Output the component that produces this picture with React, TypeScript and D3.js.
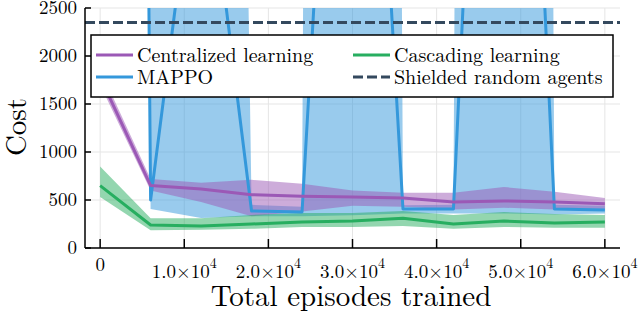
import * as d3 from "d3";

// training checkpoints (episodes)
const episodes = [0, 6000, 12000, 18000, 24000, 30000, 36000, 42000, 48000, 54000, 60000];

// Centralized learning
const centralizedMean = [1780, 650, 615, 555, 540, 530, 520, 480, 490, 480, 460];
const centralizedLow = [1700, 600, 480, 330, 380, 440, 430, 400, 420, 400, 400];
const centralizedHigh = [1860, 720, 680, 710, 670, 600, 575, 575, 635, 585, 520];

// Cascading learning
const cascadingMean = [650, 240, 230, 250, 270, 280, 310, 250, 280, 260, 270];
const cascadingLow = [530, 185, 190, 200, 220, 220, 230, 200, 220, 210, 210];
const cascadingHigh = [850, 310, 310, 345, 365, 365, 385, 345, 375, 355, 345];

// MAPPO (diverges off the top of the axis)
const mappoMean = [60000, 500, 4600, 385, 375, 9500, 406, 406, 11500, 406, 396];
const mappoLow = [53000, 406, 312, 330, 330, 340, 360, 360, 360, 350, 360];
const mappoHigh = [70000, 3000, 35000, 450, 430, 100000, 445, 450, 100000, 450, 440];

// Shielded random agents baseline
const shieldedCost = 2350;

const yTicks = [0, 500, 1000, 1500, 2000, 2500];
const xTicks = [0, 10000, 20000, 30000, 40000, 50000, 60000];

const colors = {
  centralized: "#9b59b6",
  cascading: "#27ae60",
  mappo: "#3498db",
  shielded: "#34495e",
};

const W = 640;
const H = 313;
const plot = { left: 85, right: 620, top: 8, bottom: 248 };
const font = '"Latin Modern Roman", "Liberation Serif", serif';
const tf = { fontFamily: font };

export default function App() {
  const x = d3.scaleLinear().domain([-1800, 61800]).range([plot.left, plot.right]);
  const y = d3.scaleLinear().domain([0, 2500]).range([plot.bottom, plot.top]);

  const series = [
    { key: "mappo", mean: mappoMean, low: mappoLow, high: mappoHigh, color: colors.mappo },
    { key: "centralized", mean: centralizedMean, low: centralizedLow, high: centralizedHigh, color: colors.centralized },
    { key: "cascading", mean: cascadingMean, low: cascadingLow, high: cascadingHigh, color: colors.cascading },
  ];

  const area = (low: number[], high: number[]) =>
    d3
      .area<number>()
      .x((d) => x(d))
      .y0((_, i) => y(low[i]))
      .y1((_, i) => y(high[i]))(episodes) || "";

  const line = (vals: number[]) =>
    d3
      .line<number>()
      .x((d) => x(d))
      .y((_, i) => y(vals[i]))(episodes) || "";

  const legend = [
    { label: "Centralized learning", color: colors.centralized, dash: false, col: 0, row: 0 },
    { label: "Cascading learning", color: colors.cascading, dash: false, col: 1, row: 0 },
    { label: "MAPPO", color: colors.mappo, dash: false, col: 0, row: 1 },
    { label: "Shielded random agents", color: colors.shielded, dash: true, col: 1, row: 1 },
  ];
  const colX = [96, 353];
  const rowY = [55, 77];

  return (
    <svg width={W} height={H} style={{ position: "absolute", left: 0, top: 0, background: "#fff" }}>
      <defs>
        <clipPath id="plotClip">
          <rect x={plot.left} y={plot.top} width={plot.right - plot.left} height={plot.bottom - plot.top} />
        </clipPath>
      </defs>

      {/* grid */}
      <g stroke="#e5e5e5" strokeWidth={1}>
        {xTicks.map((t) => (
          <line key={"gx" + t} x1={x(t)} x2={x(t)} y1={plot.top} y2={plot.bottom} />
        ))}
        {yTicks.map((t) => (
          <line key={"gy" + t} x1={plot.left} x2={plot.right} y1={y(t)} y2={y(t)} />
        ))}
      </g>

      <g clipPath="url(#plotClip)">
        {series.map((s) => (
          <path key={"band" + s.key} d={area(s.low, s.high)} fill={s.color} fillOpacity={0.5} stroke="none" />
        ))}
        {series.map((s) => (
          <path key={"line" + s.key} d={line(s.mean)} fill="none" stroke={s.color} strokeWidth={3} strokeLinejoin="round" />
        ))}
        <line
          x1={plot.left}
          x2={plot.right}
          y1={y(shieldedCost)}
          y2={y(shieldedCost)}
          stroke={colors.shielded}
          strokeWidth={3}
          strokeDasharray="10 4"
        />
      </g>

      {/* axes */}
      <g stroke="#000" strokeWidth={1.5}>
        <line x1={plot.left} x2={plot.left} y1={plot.top} y2={plot.bottom} />
        <line x1={plot.left} x2={plot.right} y1={plot.bottom} y2={plot.bottom} />
        {yTicks.map((t) => (
          <line key={"ty" + t} x1={plot.left} x2={plot.left + 6} y1={y(t)} y2={y(t)} />
        ))}
        {xTicks.map((t) => (
          <line key={"tx" + t} x1={x(t)} x2={x(t)} y1={plot.bottom} y2={plot.bottom - 9} />
        ))}
      </g>

      <g fontSize={19} fill="#000">
        {yTicks.map((t) => (
          <text key={"ly" + t} x={plot.left - 8} y={y(t) + 6} textAnchor="end" style={tf}>
            {t}
          </text>
        ))}
        {xTicks.map((t) =>
          t === 0 ? (
            <text key={"lx" + t} x={x(t)} y={271} textAnchor="middle" style={tf}>
              0
            </text>
          ) : (
            <text key={"lx" + t} x={x(t)} y={278} textAnchor="middle" style={tf}>
              <tspan>{(t / 10000).toFixed(1)}×10</tspan>
              <tspan dy={-10} fontSize={14}>4</tspan>
            </text>
          )
        )}
      </g>

      <text x={351} y={306} textAnchor="middle" fontSize={29} style={tf}>
        Total episodes trained
      </text>
      <text transform="translate(26,127) rotate(-90)" textAnchor="middle" fontSize={29} style={tf}>
        Cost
      </text>

      {/* legend */}
      <rect x={91} y={35} width={522} height={62} fill="#fff" stroke="#000" strokeWidth={1.5} />
      {legend.map((l) => (
        <g key={l.label}>
          <line
            x1={colX[l.col]}
            x2={colX[l.col] + 37}
            y1={rowY[l.row]}
            y2={rowY[l.row]}
            stroke={l.color}
            strokeWidth={3}
            strokeDasharray={l.dash ? "10 4" : undefined}
          />
          <text x={colX[l.col] + 41} y={rowY[l.row] + 7} fontSize={20} style={tf}>
            {l.label}
          </text>
        </g>
      ))}
    </svg>
  );
}
